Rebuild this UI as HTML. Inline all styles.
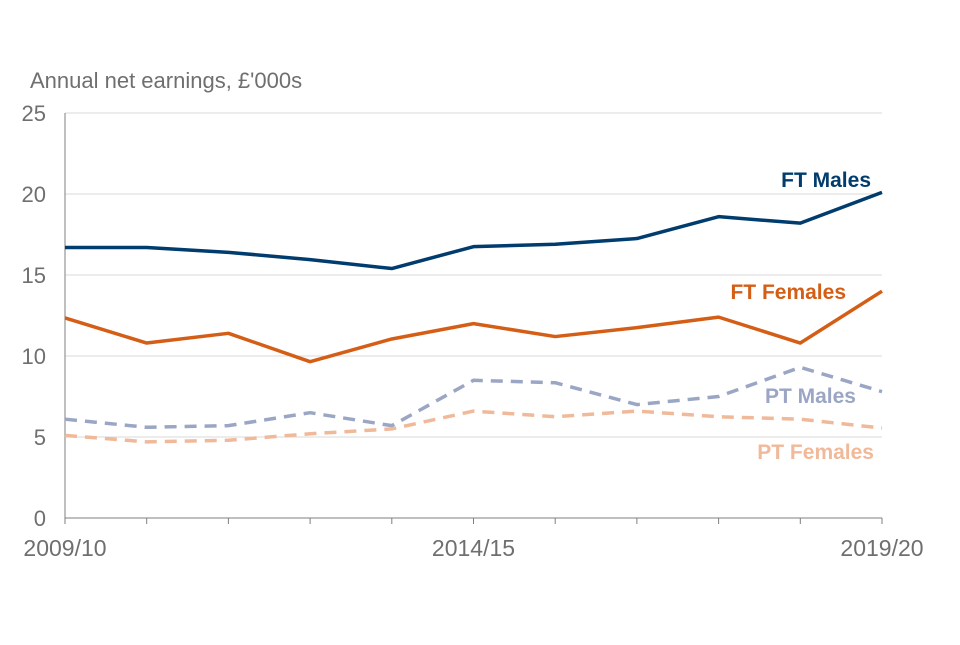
<!DOCTYPE html>
<html><head><meta charset="utf-8"><style>
body{margin:0;background:#fff;font-family:"Liberation Sans",Arial,sans-serif}
</style></head><body>
<svg id="chart" width="960" height="640" xmlns="http://www.w3.org/2000/svg">
<text x="30" y="88" font-size="22" fill="#6f6f6f">Annual net earnings, £'000s</text>
<g id="grid"></g><g id="axes"></g><g id="lines"></g><g id="labels"></g>
</svg>
<script>
const categories=["2009/10","2010/11","2011/12","2012/13","2013/14","2014/15","2015/16","2016/17","2017/18","2018/19","2019/20"];
const ftMales=[16.7,16.7,16.4,15.95,15.4,16.75,16.9,17.25,18.6,18.2,20.1];
const ftFemales=[12.35,10.8,11.4,9.65,11.05,12.0,11.2,11.75,12.4,10.8,14.0];
const ptMales=[6.1,5.6,5.7,6.5,5.7,8.5,8.35,7.0,7.5,9.3,7.8];
const ptFemales=[5.1,4.7,4.8,5.2,5.5,6.6,6.25,6.6,6.25,6.1,5.55];
const yTicks=[0,5,10,15,20,25];
const xLabels=["2009/10","2014/15","2019/20"];
const NS="http://www.w3.org/2000/svg";
const x0=65,x1=882,y0=518,y1=113;
const xs=i=>x0+(x1-x0)*i/(categories.length-1);
const ys=v=>y0-(y0-y1)*v/25;
function mk(tag,attrs,parent){const e=document.createElementNS(NS,tag);for(const k in attrs)e.setAttribute(k,attrs[k]);document.getElementById(parent).appendChild(e);return e;}
yTicks.forEach(t=>{
  if(t>0){const g=mk("line",{x1:x0,x2:x1,y1:ys(t),y2:ys(t),stroke:"#d9d9d9","stroke-width":1},"grid");
  
  }
  const l=mk("text",{x:46,y:ys(t)+8,"font-size":22,fill:"#6f6f6f","text-anchor":"end"},"axes");l.textContent=t;
  
  
});
const ax=mk("line",{x1:x0,x2:x0,y1:y1,y2:y0,stroke:"#7f7f7f","stroke-width":1},"axes");


const bx=mk("line",{x1:x0,x2:x1,y1:y0,y2:y0,stroke:"#7f7f7f","stroke-width":1},"axes");


categories.forEach((c,i)=>{
  const t=mk("line",{x1:xs(i),x2:xs(i),y1:y0,y2:y0+6,stroke:"#7f7f7f"},"axes");
  
  
  if(xLabels.includes(c)){
    const l=mk("text",{x:xs(i),y:556,"font-size":23,fill:"#6f6f6f","text-anchor":"middle"},"axes");l.textContent=c;
    
    
  }
});
const series=[
 {d:ftMales,c:"#003c6e",dash:"",name:"ft-males",label:"FT Males",lx:871,ly:187},
 {d:ftFemales,c:"#d55e17",dash:"",name:"ft-females",label:"FT Females",lx:846,ly:299},
 {d:ptMales,c:"#9aa6c4",dash:"12,8",name:"pt-males",label:"PT Males",lx:856,ly:403},
 {d:ptFemales,c:"#f0b999",dash:"12,8",name:"pt-females",label:"PT Females",lx:874,ly:459}
];
series.forEach(s=>{
  const p=mk("polyline",{points:s.d.map((v,i)=>xs(i)+","+ys(v)).join(" "),fill:"none",stroke:s.c,"stroke-width":3.5,"stroke-dasharray":s.dash,"stroke-linejoin":"round"},"lines");
  
  
  const t=mk("text",{x:s.lx,y:s.ly,"font-size":21,"font-weight":"bold",fill:s.c,"text-anchor":"end"},"labels");t.textContent=s.label;
  
  
});
</script>
</body></html>
